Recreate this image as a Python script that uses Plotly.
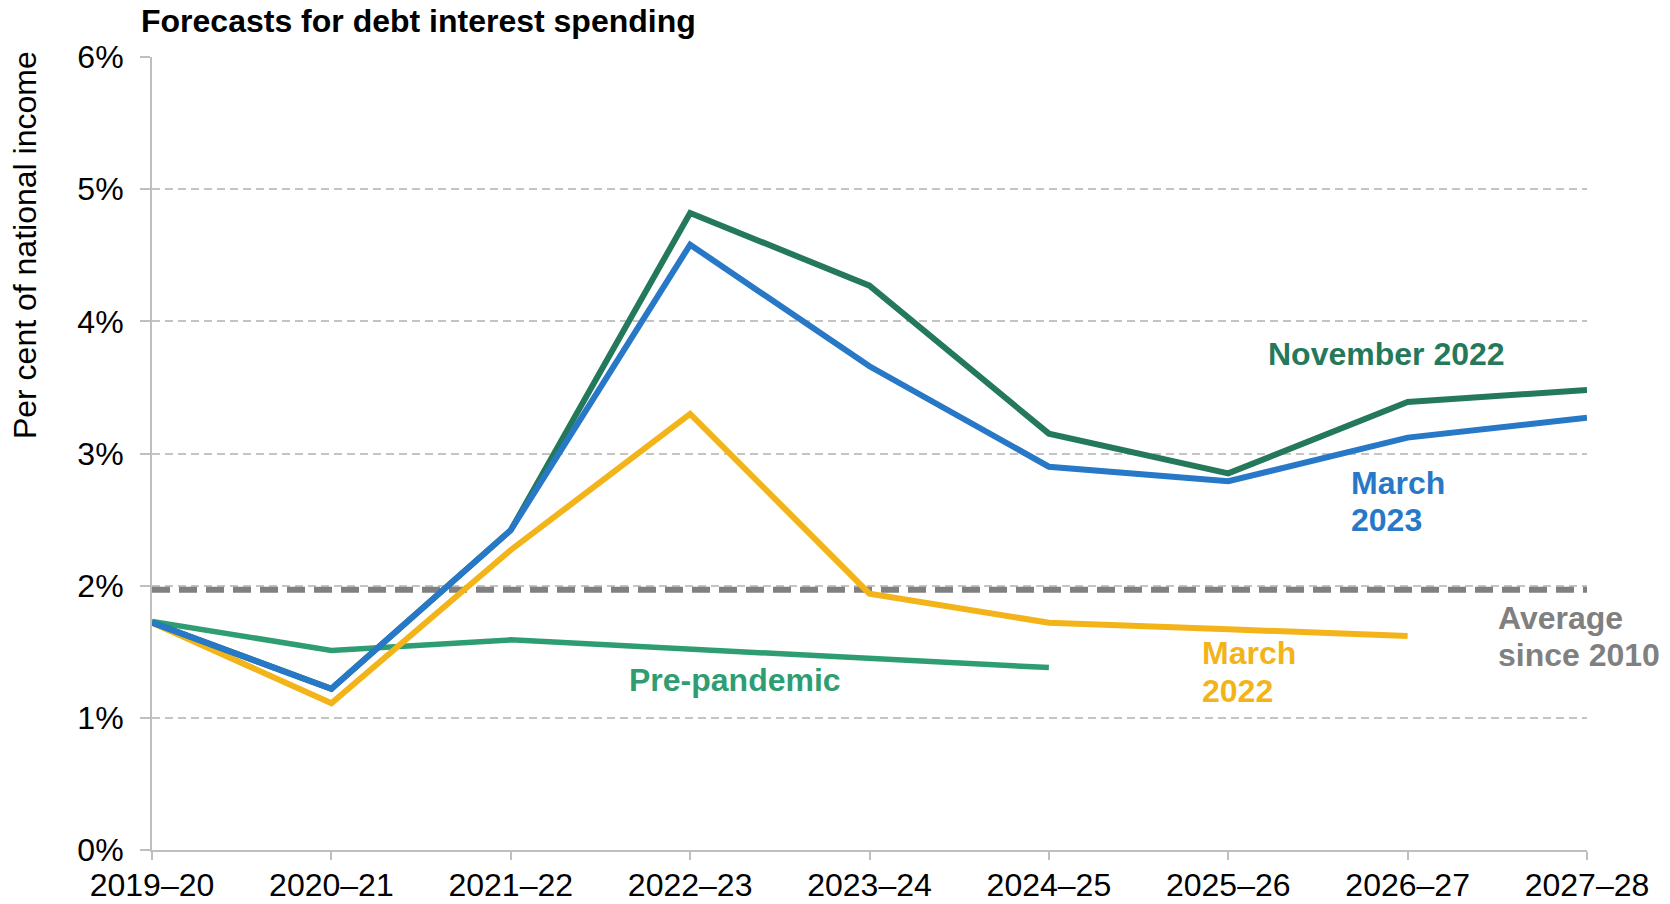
import plotly.graph_objects as go

years = ["2019–20", "2020–21", "2021–22", "2022–23", "2023–24",
         "2024–25", "2025–26", "2026–27", "2027–28"]
nov_2022 = [1.72, 1.22, 2.42, 4.82, 4.27, 3.15, 2.85, 3.39, 3.48]
mar_2023 = [1.72, 1.22, 2.42, 4.58, 3.66, 2.90, 2.79, 3.12, 3.27]
mar_2022 = [1.72, 1.11, 2.27, 3.30, 1.94, 1.72, 1.67, 1.62]
pre_pandemic = [1.73, 1.51, 1.59, 1.52, 1.45, 1.38]
avg_since_2010 = 1.97

C_NOV = "#23795A"
C_M23 = "#2878C8"
C_M22 = "#F2B418"
C_PRE = "#2E9E72"
C_AVG = "#808080"
FONT = "Liberation Sans, Arial, sans-serif"

fig = go.Figure()
fig.add_trace(go.Scatter(x=[years[0], years[-1]], y=[avg_since_2010, avg_since_2010],
                         mode="lines", line=dict(color=C_AVG, width=6, dash="18px,9px")))
fig.add_trace(go.Scatter(x=years[:len(pre_pandemic)], y=pre_pandemic, mode="lines",
                         line=dict(color=C_PRE, width=5.5)))
fig.add_trace(go.Scatter(x=years[:len(mar_2022)], y=mar_2022, mode="lines",
                         line=dict(color=C_M22, width=6)))
fig.add_trace(go.Scatter(x=years, y=nov_2022, mode="lines",
                         line=dict(color=C_NOV, width=6)))
fig.add_trace(go.Scatter(x=years, y=mar_2023, mode="lines",
                         line=dict(color=C_M23, width=6)))

def lab(text, x, y, color, anchor="left"):
    fig.add_annotation(text=f"<b>{text}</b>", x=x, y=y, xref="x", yref="y",
                       xanchor=anchor, yanchor="middle", showarrow=False,
                       font=dict(family=FONT, size=32, color=color))

lab("November 2022", 6.88, 3.75, C_NOV, "center")
lab("March", 6.675, 2.78, C_M23)
lab("2023", 6.675, 2.50, C_M23)
lab("Average", 7.49, 1.756, C_AVG)
lab("since 2010", 7.49, 1.476, C_AVG)
lab("March", 5.84, 1.49, C_M22)
lab("2022", 5.84, 1.205, C_M22)
lab("Pre-pandemic", 3.25, 1.287, C_PRE, "center")

fig.add_annotation(text="<b>Forecasts for debt interest spending</b>", x=-0.009, y=1.046,
                   xref="paper", yref="paper", xanchor="left", yanchor="middle",
                   showarrow=False, font=dict(family=FONT, size=32, color="#000000"))
fig.add_annotation(text="Per cent of national income", x=-0.0884, y=0.763,
                   xref="paper", yref="paper", xanchor="center", yanchor="middle",
                   textangle=-90, showarrow=False,
                   font=dict(family=FONT, size=32, color="#000000"))

fig.update_layout(
    width=1670, height=904,
    margin=dict(l=152, r=83, t=57, b=54),
    plot_bgcolor="white", paper_bgcolor="white",
    showlegend=False,
    font=dict(family=FONT, size=32, color="#000000"),
    xaxis=dict(type="category", categoryorder="array", categoryarray=years,
               range=[0, 8], showgrid=False, showline=True, automargin=False,
               linecolor="#BFBFBF", linewidth=2, ticks="outside", ticklen=8,
               tickcolor="#BFBFBF", tickwidth=1.5, zeroline=False,
               ticklabelstandoff=-2,
               tickfont=dict(family=FONT, size=32, color="#000000")),
    yaxis=dict(range=[0, 6], dtick=1, ticksuffix="%", showgrid=True, automargin=False,
               gridcolor="#C4C4C4", gridwidth=1.5, griddash="8px,5px",
               showline=True, linecolor="#BFBFBF", linewidth=2, ticks="outside",
               ticklen=10, tickcolor="#BFBFBF", tickwidth=1.5, zeroline=False,
               ticklabelstandoff=10,
               tickfont=dict(family=FONT, size=32, color="#000000")),
)

fig.write_html("out.html")
